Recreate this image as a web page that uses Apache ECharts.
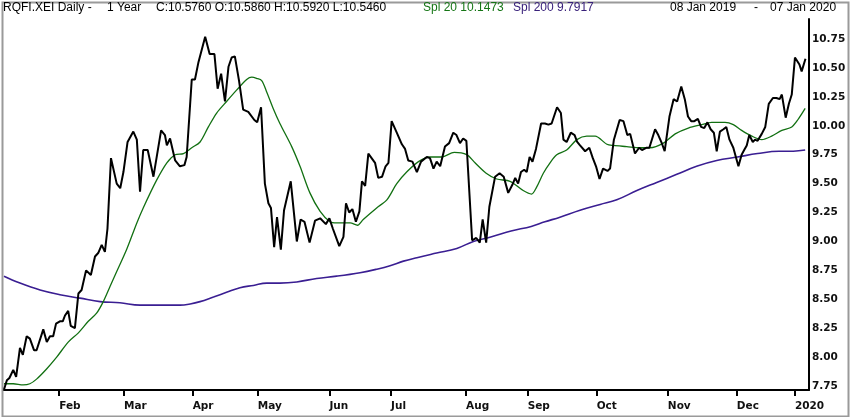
<!DOCTYPE html>
<html><head><meta charset="utf-8">
<script src="https://cdn.jsdelivr.net/npm/echarts@6/dist/echarts.min.js"></script>
<style>html,body{margin:0;padding:0;background:#fff}#c{width:850px;height:417px}</style>
</head><body><div id="c"></div>
<script>
// Trading-day index (0 = 08 Jan 2019) and closing price at line vertices
const priceIdx = [0,0.9,1.7,2.9,3.8,5.0,5.9,7.1,8.1,9.4,
10.2,12.3,13.4,14.4,15.4,16.3,17.5,18.4,19.1,20.1,
20.9,22.2,23.3,24.3,25.7,27.2,28.5,29.5,30.6,31.6,
32.4,33.5,35.3,36.4,37.4,38.7,40.5,41.6,42.6,43.6,
45.0,46.8,49.2,50.4,51.0,52.0,53.6,55.1,56.5,57.2,
58.8,59.8,60.9,63.0,64.4,65.9,66.9,68.0,69.2,70.3,
71.3,72.3,73.6,74.9,76.5,78.4,79.3,80.5,81.7,82.8,
83.6,84.6,85.5,86.7,87.7,89.8,91.7,92.9,94.1,95.7,
97.4,99.0,100.8,101.9,103.0,105.0,106.3,107.1,108.1,109.1,
110.2,111.3,112.1,113.1,114.1,116.2,117.2,118.4,119.5,120.4,
121.4,123.0,124.6,125.6,126.6,127.9,129.3,130.6,132.4,133.4,
134.5,135.5,136.6,138.1,139.4,140.7,141.7,142.8,143.8,144.8,
146.6,147.9,149.0,149.9,151.0,152.0,153.8,155.2,156.5,157.9,
159.2,160.1,161.0,161.9,162.9,163.7,164.6,165.5,166.6,168.2,
169.4,170.5,171.5,173.2,174.4,175.2,176.2,177.5,178.7,179.5,
180.4,182.0,183.3,184.4,185.4,186.5,187.6,189.0,189.8,191.0,
192.8,194.0,195.2,196.1,197.6,198.9,199.8,201.1,202.1,203.9,
204.9,206.0,206.9,208.4,209.7,210.8,212.1,213.2,214.2,215.2,
216.2,217.3,218.3,219.3,220.3,221.3,222.3,223.2,224.2,225.3,
226.2,227.2,228.4,229.5,230.0,231.0,231.8,232.6,233.4,234.5,
235.2,236.0,237.3,238.4,239.5,240.8,241.9,242.9,243.6,244.8,
245.8,246.7,247.7,249.1,249.8,251.0];
const priceVal = [7.72,7.80,7.82,7.89,7.83,8.08,8.02,8.18,8.16,8.06,
8.06,8.24,8.13,8.18,8.18,8.29,8.31,8.31,8.36,8.40,
8.27,8.25,8.55,8.58,8.75,8.71,8.87,8.90,8.97,8.91,
9.11,9.72,9.50,9.46,9.60,9.86,9.95,9.88,9.43,9.79,
9.79,9.56,9.96,9.92,9.83,9.89,9.70,9.65,9.66,9.73,
10.40,10.40,10.55,10.77,10.62,10.62,10.32,10.45,10.21,10.51,
10.59,10.60,10.39,10.14,10.12,10.05,10.03,10.16,9.50,9.33,
9.29,8.95,9.21,8.93,9.27,9.52,9.00,9.19,9.17,8.99,
9.18,9.20,9.15,9.20,9.11,8.96,9.04,9.33,9.25,9.28,
9.17,9.26,9.52,9.48,9.76,9.68,9.55,9.56,9.65,9.68,
10.04,9.94,9.84,9.80,9.70,9.69,9.60,9.69,9.73,9.72,
9.63,9.69,9.65,9.82,9.85,9.94,9.92,9.85,9.89,9.87,
9.01,9.03,8.99,9.19,8.99,9.30,9.56,9.59,9.56,9.42,
9.49,9.55,9.50,9.60,9.62,9.60,9.73,9.69,9.80,10.02,
10.02,10.01,10.02,10.16,10.11,9.88,9.86,9.94,9.92,9.86,
9.83,9.78,9.81,9.72,9.65,9.54,9.63,9.61,9.63,9.88,
10.05,10.04,9.92,9.93,9.76,9.81,9.79,9.81,9.81,9.97,
9.92,9.85,9.78,10.08,10.23,10.21,10.34,10.23,10.08,10.04,
10.04,10.06,9.99,9.98,10.03,9.97,9.94,9.78,9.95,9.97,
9.99,9.88,9.81,9.70,9.65,9.75,9.79,9.83,9.92,9.86,
9.88,9.87,9.93,9.99,10.19,10.24,10.24,10.23,10.27,10.07,
10.19,10.27,10.59,10.53,10.47,10.58];

// Spl 20 (green)
const spl20Idx = [0,2.9,6.0,8.1,10.2,13.4,16.5,20.1,23.3,26.4,29.0,31.1,33.2,35.3,38.4,41.6,43.6,47.8,51.0,53.6,56.2,58.8,61.4,64.0,66.6,69.7,72.9,76.0,77.6,79.1,80.7,82.3,84.3,86.4,90.1,92.7,95.8,99.0,102.1,104.2,108.4,110.7,112.5,116.7,119.9,123.0,126.1,129.8,133.4,137.1,141.0,144.9,147.5,151.0,154.3,158.5,162.6,165.2,166.8,168.9,171.0,173.1,176.2,179.4,182.5,185.1,188.8,190.8,195.0,199.2,202.3,206.5,210.2,214.3,218.5,221.6,225.8,228.4,231.0,234.2,237.3,240.4,243.6,246.7,248.8,250.9];
const spl20Val = [7.77,7.77,7.76,7.77,7.81,7.90,8.00,8.13,8.21,8.31,8.38,8.48,8.61,8.74,8.93,9.16,9.29,9.53,9.68,9.75,9.76,9.81,9.86,9.99,10.11,10.21,10.31,10.40,10.42,10.41,10.39,10.29,10.15,10.02,9.82,9.65,9.42,9.26,9.17,9.16,9.16,9.14,9.19,9.29,9.36,9.50,9.60,9.69,9.73,9.73,9.77,9.75,9.68,9.59,9.54,9.52,9.44,9.41,9.47,9.59,9.68,9.75,9.79,9.88,9.91,9.91,9.84,9.83,9.82,9.81,9.81,9.85,9.93,9.98,10.01,10.03,10.03,10.01,9.96,9.91,9.88,9.91,9.96,9.99,10.06,10.15];

// Spl 200 (purple)
const spl200Idx = [0,5.0,11.3,17.5,23.8,30.1,36.3,42.6,48.9,55.1,58.3,61.4,65.6,69.7,73.9,78.1,82.3,86.4,91.7,97.9,104.2,111.5,116.7,120.9,125.1,129.3,135.5,141.8,147.0,152.7,158.8,165.1,169.4,174.1,180.4,186.7,191.9,198.2,204.4,210.7,216.9,223.2,229.7,236.0,242.7,247.2,250.9];
const spl200Val = [8.70,8.64,8.58,8.54,8.51,8.48,8.47,8.45,8.45,8.45,8.46,8.48,8.52,8.56,8.60,8.62,8.64,8.64,8.65,8.68,8.70,8.73,8.76,8.79,8.83,8.86,8.90,8.94,9.00,9.04,9.09,9.13,9.17,9.21,9.27,9.32,9.36,9.44,9.51,9.58,9.65,9.70,9.73,9.76,9.78,9.78,9.79];

// Axis ticks
const monthTickIdx = [17.3,37.6,59.1,79.5,101.9,121.2,144.7,164.0,185.6,207.9,229.5,247.7];
const monthLabels = ['Feb','Mar','Apr','May','Jun','Jul','Aug','Sep','Oct','Nov','Dec','2020'];
const priceTicks = [7.75,8.00,8.25,8.50,8.75,9.00,9.25,9.50,9.75,10.00,10.25,10.50,10.75];

const zip = (a, b) => a.map((x, i) => [x, b[i]]);

const chart = echarts.init(document.getElementById('c'), null, {renderer: 'canvas'});
const AXFONT = '"DejaVu Sans", sans-serif';
const HFONT = '"Liberation Sans", Arial, sans-serif';
const hdr = (text, left, color) => ({
  type: 'text', left: left, top: 2,
  style: {text: text, fill: color, font: '12px ' + HFONT}
});

chart.setOption({
  animation: false,
  backgroundColor: '#fff',
  grid: {left: 4, right: 41, top: 19, bottom: 27},
  xAxis: {
    type: 'value', min: 0, max: 252.1,
    axisLine: {show: true, onZero: false, lineStyle: {color: '#000', width: 2}},
    axisTick: {show: true, customValues: monthTickIdx, length: 6, lineStyle: {color: '#000', width: 2}},
    axisLabel: {
      customValues: monthTickIdx, align: 'left', margin: 11,
      color: '#111', fontFamily: AXFONT, fontSize: 10.5, fontWeight: 'bold',
      formatter: function (v) {
        let best = 0, d = 1e9;
        monthTickIdx.forEach((t, i) => { if (Math.abs(t - v) < d) { d = Math.abs(t - v); best = i; } });
        return monthLabels[best];
      }
    },
    splitLine: {show: false}
  },
  yAxis: {
    type: 'value', position: 'right', min: 7.716, max: 10.923,
    axisLine: {show: true, onZero: false, lineStyle: {color: '#000', width: 2}},
    axisTick: {show: false},
    axisLabel: {
      customValues: priceTicks, margin: 3, color: '#111', fontFamily: AXFONT, fontSize: 10.5, fontWeight: 'bold',
      formatter: v => v.toFixed(2)
    },
    splitLine: {show: false}
  },
  series: [
    {type: 'line', name: 'Spl 200', data: zip(spl200Idx, spl200Val), showSymbol: false, smooth: 0.4,
     lineStyle: {color: '#3a1e92', width: 1.6}},
    {type: 'line', name: 'Spl 20', data: zip(spl20Idx, spl20Val), showSymbol: false, smooth: 0.3,
     lineStyle: {color: '#127012', width: 1.3}},
    {type: 'line', name: 'Close', data: zip(priceIdx, priceVal), showSymbol: false,
     lineStyle: {color: '#000', width: 2}}
  ],
  graphic: [
    {type: 'rect', left: 0, top: 0, shape: {x: 1, y: 1, width: 846, height: 414},
     style: {fill: 'none', stroke: '#9a9a9a', lineWidth: 2}, silent: true},
    hdr('RQFI.XEI Daily -', 3, '#000'),
    hdr('1 Year', 107, '#000'),
    hdr('C:10.5760 O:10.5860 H:10.5920 L:10.5460', 156, '#000'),
    hdr('Spl 20 10.1473', 423, '#157515'),
    hdr('Spl 200 9.7917', 513, '#38207a'),
    hdr('08 Jan 2019', 670, '#000'),
    hdr('-', 754, '#000'),
    hdr('07 Jan 2020', 770, '#000')
  ]
});
</script>
</body></html>
